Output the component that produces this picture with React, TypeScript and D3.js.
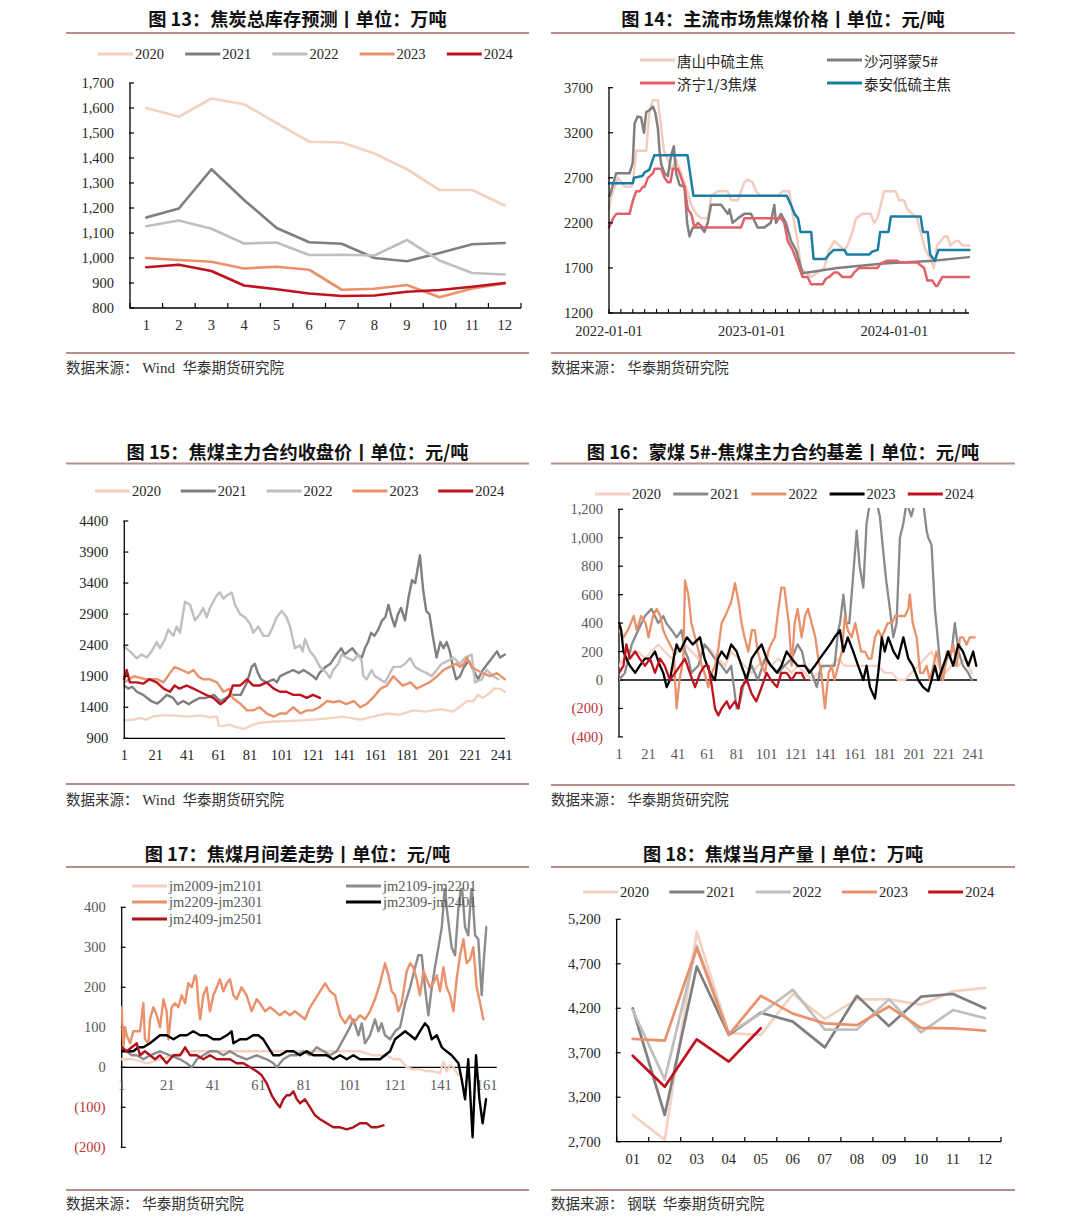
import React from 'react';
import * as d3 from 'd3';

type P = [number, number];

const SERIF = "'Liberation Serif','Times New Roman',serif";
const CJK = "'Noto Sans CJK SC','Noto Sans',sans-serif";
const RULE = '#b48e8c';
const TXT = '#262626';
const NEG = '#b8333a';

const C20 = '#f3d2c1';
const C21 = '#7f7f7f';
const C22 = '#bfbfbf';
const C23 = '#e9916b';
const C24 = '#c0111f';
const BLACK = '#000000';

// ---------------- 图13 焦炭总库存预测 ----------------
const months13 = [1, 2, 3, 4, 5, 6, 7, 8, 9, 10, 11, 12];
const inv2020 = [1600, 1565, 1638, 1615, 1540, 1465, 1462, 1418, 1355, 1272, 1272, 1210];
const inv2021 = [1162, 1198, 1355, 1232, 1120, 1063, 1057, 1000, 987, 1020, 1055, 1060];
const inv2022 = [1127, 1150, 1117, 1058, 1062, 1012, 1013, 1010, 1072, 990, 940, 934];
const inv2023 = [1000, 992, 985, 958, 965, 953, 873, 877, 892, 843, 878, 898];
const inv2024 = [963, 973, 948, 890, 875, 858, 848, 850, 865, 872, 885, 900];
const ticks13 = [800, 900, 1000, 1100, 1200, 1300, 1400, 1500, 1600, 1700];

// ---------------- 图14 主流市场焦煤价格 (x = months since 2022-01-01) ----------------
const tangshan: P[] = [[0,2350],[0.2,2500],[0.62,2650],[0.76,2700],[1.31,2600],[1.87,2600],[2.01,2650],[2.29,3000],[3.13,3000],[3.41,3450],[3.69,3560],[4.11,3560],[4.25,3400],[4.62,3000],[4.95,2900],[5.23,2800],[5.65,2900],[6.07,2750],[6.35,2650],[6.91,2400],[7.33,2300],[7.75,2250],[8.31,2250],[8.59,2500],[9.15,2550],[9.99,2550],[10.27,2450],[10.83,2450],[11.1,2550],[11.38,2650],[11.66,2680],[12.08,2650],[12.36,2550],[12.78,2500],[14.18,2500],[14.6,2550],[15.16,2550],[15.44,2300],[15.86,2000],[16.14,1700],[16.98,1600],[17.54,1650],[18.1,1700],[18.52,1900],[18.94,2000],[19.36,1950],[19.78,1900],[20.06,1950],[20.48,2100],[20.76,2250],[21.3,2300],[22.0,2300],[22.3,2200],[22.57,2250],[22.85,2400],[23.13,2550],[24.1,2550],[24.4,2450],[24.8,2450],[25.1,2350],[25.5,2300],[25.9,2250],[26.2,2100],[26.6,1900],[27.05,1800],[27.3,1700],[27.6,1950],[27.9,2000],[28.2,2050],[28.45,2050],[28.7,1950],[29.15,2000],[29.4,2000],[29.7,1950],[30.27,1950]];
const shahe: P[] = [[0.06,2500],[0.6,2750],[1.73,2750],[2.0,2870],[2.15,3300],[2.4,3380],[2.7,3370],[2.94,3200],[3.13,3430],[3.4,3450],[3.7,3490],[3.9,3420],[4.11,3250],[4.25,3000],[4.39,2850],[4.67,2750],[4.95,2720],[5.23,2950],[5.45,3050],[5.65,2750],[5.93,2620],[6.35,2600],[6.57,2200],[6.77,2050],[7.05,2150],[7.33,2150],[7.75,2150],[8.03,2100],[8.3,2200],[8.59,2400],[9.43,2400],[9.99,2300],[10.13,2350],[10.4,2200],[10.83,2250],[11.38,2300],[11.94,2300],[12.5,2150],[13.06,2150],[13.6,2200],[13.9,2400],[14.04,2200],[14.46,2300],[14.88,2200],[15.3,2000],[15.72,1900],[16.28,1640],[19.2,1700],[23.1,1750],[27.3,1780],[30.27,1820]];
const jining: P[] = [[0,2150],[0.34,2250],[0.62,2300],[1.73,2300],[2.01,2450],[2.29,2550],[2.57,2550],[2.85,2600],[2.99,2600],[3.27,2700],[3.69,2750],[3.83,2800],[4.39,2800],[4.67,2700],[4.95,2650],[5.17,2650],[5.37,2800],[5.79,2800],[6.07,2700],[6.35,2600],[6.63,2350],[6.91,2300],[7.19,2150],[7.47,2200],[7.89,2150],[11.1,2150],[11.38,2250],[14.46,2250],[14.74,2200],[15.02,2000],[15.44,1900],[15.72,1800],[16.0,1700],[16.28,1600],[16.7,1600],[16.98,1520],[17.96,1520],[18.24,1580],[18.52,1600],[18.94,1650],[19.22,1650],[19.64,1600],[20.34,1600],[20.62,1650],[21.03,1700],[22.57,1700],[22.85,1750],[23.41,1780],[24.25,1780],[24.53,1760],[25.93,1760],[26.2,1730],[26.49,1700],[26.77,1560],[27.19,1560],[27.47,1500],[27.61,1500],[28.03,1600],[30.27,1600]];
const taian: P[] = [[0,2640],[2.0,2640],[2.1,2700],[2.8,2720],[3.0,2760],[3.4,2790],[3.8,2950],[6.6,2950],[7.1,2500],[14.95,2500],[15.3,2400],[15.6,2300],[15.9,2250],[16.1,2100],[17.0,2100],[17.2,1800],[18.2,1800],[18.5,1850],[18.9,1900],[19.8,1900],[20.0,1850],[21.9,1850],[22.1,1880],[22.6,1900],[22.8,2100],[23.5,2100],[23.7,2270],[26.2,2270],[26.4,2100],[26.8,2100],[27.0,1850],[27.4,1780],[27.7,1900],[30.3,1900]];
const ticks14 = [1200, 1700, 2200, 2700, 3200, 3700];
const dateLabels14: [number, string][] = [[0, '2022-01-01'], [12, '2023-01-01'], [24, '2024-01-01']];

// ---------------- 图15 焦煤主力合约收盘价 (x = trading day) ----------------
const close2020: P[] = [[1,1190],[7,1200],[11,1230],[15,1200],[19,1250],[24,1270],[32,1270],[41,1250],[49,1270],[55,1240],[60,1250],[61,1100],[64,1100],[68,1120],[72,1080],[77,1050],[81,1100],[87,1150],[96,1170],[108,1180],[121,1200],[130,1220],[140,1250],[151,1200],[159,1250],[168,1300],[176,1280],[185,1350],[193,1330],[202,1370],[210,1330],[214,1400],[219,1500],[223,1500],[226,1600],[229,1550],[233,1620],[236,1700],[240,1700],[243,1650]];
const close2021: P[] = [[1,1750],[3.5,1700],[6,1730],[9,1650],[13,1600],[18,1500],[22,1460],[24,1500],[28,1600],[32,1550],[35,1450],[38.5,1500],[42,1450],[45,1500],[49,1550],[53,1550],[58,1600],[62,1500],[66,1550],[70,1600],[75,1600],[79,1800],[82,2050],[84,2100],[86,1950],[88,1850],[91.5,1800],[96,1850],[98,1800],[100,1900],[104,1950],[108.5,2000],[112,1950],[115,2000],[118,1950],[121,1900],[123,1850],[125,1950],[129,2050],[132,2100],[136,2250],[139,2350],[141,2250],[143.5,2300],[146,2350],[149,2250],[152,2200],[154,2350],[156,2450],[158,2600],[160,2550],[162.5,2650],[165,2800],[167,2850],[169,3050],[171,2850],[173,2700],[175,2900],[177,3000],[179.5,2800],[182,3200],[184,3450],[186,3400],[189,3850],[191,3300],[193,2950],[195,2900],[197.5,2500],[199.6,2200],[202,2450],[204,2350],[206,2450],[208,2300],[210,2050],[212,1850],[214.5,1900],[217,2050],[220,2150],[223,2000],[226,1850],[229,2000],[233.5,2150],[238,2300],[240,2200],[243,2250]];
const close2022: P[] = [[1,2376],[4.6,2300],[8.8,2190],[12,2250],[15.2,2200],[18.4,2300],[21.6,2450],[23.7,2350],[26.9,2500],[29,2650],[32.2,2550],[34.3,2700],[36.4,2600],[39.6,3100],[42.8,3050],[46,2800],[49.1,2900],[51.2,3000],[53.4,2850],[55.5,3000],[57.6,3100],[59.7,3200],[61.8,3250],[64,3150],[66.1,3200],[69.3,3250],[71.4,3050],[74.6,2900],[77.7,2850],[80.9,2750],[83,2600],[86.2,2700],[89.4,2550],[92.6,2550],[94.7,2650],[97.9,2850],[101.1,2950],[104.2,2850],[106.4,2700],[109.5,2350],[112.7,2400],[114.4,2300],[115.9,2500],[119.1,2300],[122.3,2200],[125.4,2050],[129.7,1950],[131.8,1870],[133.9,2000],[137.1,2100],[139.2,2250],[142.4,2200],[146.6,2150],[149.8,2250],[151.9,2150],[153,1900],[155.1,1850],[157.2,1950],[158.3,2000],[160.4,1900],[163.6,1850],[166.8,1800],[168.9,1900],[172.1,2050],[176.3,2050],[179.5,2100],[182.7,2190],[185.9,2050],[189,2000],[193.3,1950],[196.5,1900],[199.6,2000],[202.8,2100],[207,2150],[210.2,2200],[214.5,2100],[217.7,2200],[221.9,2250],[224,1800],[228.3,1850],[231.4,2000],[235.7,1900],[238.9,1850]];
const close2023: P[] = [[1,1800],[7,1900],[15,1850],[22,1850],[26,1800],[30,1950],[33,2050],[37.5,2000],[42,1950],[45,2000],[48,1900],[51,1850],[55.5,1850],[60,1800],[64,1650],[68,1700],[70,1550],[75,1450],[79,1350],[83,1350],[87,1400],[91.5,1300],[96,1250],[100,1300],[104,1300],[108.5,1400],[113,1300],[117,1350],[121,1350],[125,1400],[130,1500],[134,1480],[138,1500],[142,1450],[147,1500],[151,1400],[155,1450],[159,1550],[164,1700],[168,1750],[172,1900],[174,1850],[178,1750],[183,1800],[187,1700],[191,1750],[195,1800],[200,1900],[204,2000],[208,2050],[212,2100],[214.5,2050],[217,2100],[219,2200],[222,2050],[225,2000],[229,1950],[233.5,1900],[238,1950],[243,1850]];
const close2024: P[] = [[1,1850],[2.5,2000],[4.6,1800],[8.8,1800],[13,1780],[17,1850],[21.6,1800],[26,1700],[30,1650],[33,1750],[36,1700],[40.6,1750],[45,1700],[49,1650],[53,1600],[57.6,1550],[62,1450],[65,1500],[68,1600],[70,1750],[74.6,1750],[79,1850],[81,1800],[83,1750],[87,1750],[91.5,1800],[96,1700],[100,1650],[104,1650],[108.5,1600],[113,1600],[117,1550],[121,1600],[125.4,1550]];
const ticks15 = [900, 1400, 1900, 2400, 2900, 3400, 3900, 4400];
const dayTicks = [1, 21, 41, 61, 81, 101, 121, 141, 161, 181, 201, 221, 241];

// ---------------- 图16 蒙煤5#-焦煤主力合约基差 ----------------
const basis2020: P[] = [[1,100],[7,200],[14,200],[18.6,150],[23,200],[27.6,250],[32,200],[36.7,150],[41,200],[45.7,250],[50,200],[54.7,150],[59,250],[64,200],[68,150],[73,100],[77,200],[82,150],[86,100],[91,50],[95,100],[100,150],[104,100],[109,150],[113,100],[118,50],[122,100],[127,50],[131.5,0],[136,50],[140.5,100],[145,100],[149.5,150],[154,100],[158.6,100],[163,100],[167.6,100],[172,100],[176.6,100],[181,50],[186,50],[190,0],[194.7,0],[199,50],[203.7,100],[208,150],[212.7,200],[217.3,100],[222,50],[226.3,100],[231,100],[235,150],[240,50]];
const basis2021: P[] = [[1,0],[5,50],[9.6,250],[14,350],[18.6,450],[23,500],[27.6,400],[31,450],[33,400],[36.7,350],[40,300],[43.4,350],[45.7,200],[48,150],[50,50],[54.7,100],[59,250],[62.6,200],[66,150],[70.5,100],[73.9,50],[77,100],[80.7,-200],[83,-150],[86,0],[91,100],[95,0],[100,150],[104,100],[109,50],[113,100],[118,150],[122,250],[125,200],[127,100],[131.5,50],[135,-50],[138,100],[143,100],[147,100],[149.5,350],[150.7,400],[153,600],[155,400],[157,400],[158.6,600],[162,1050],[164,800],[166.5,650],[168.7,1100],[171,1250],[173,1250],[175.5,1250],[177.7,1150],[180,900],[182,700],[184.5,500],[186.8,300],[189,400],[191.3,1000],[193.6,1100],[195.8,1250],[199,1150],[201.5,1250],[203.7,1250],[207,1250],[209.4,1050],[210.5,1000],[212.7,950],[215,500],[217.3,250],[219.5,0],[222,100],[224,200],[226.3,200],[228.5,400],[231,200],[234,100],[237.6,50],[240,0]];
const basis2022: P[] = [[1,350],[4,300],[7,350],[11,450],[13,350],[16,450],[19,400],[21,300],[24,450],[26.5,500],[29,450],[31,350],[33,300],[35.5,250],[38,200],[40,-200],[42,0],[44.6,150],[45.7,700],[48,600],[50,400],[52.5,300],[55,200],[57,100],[59,50],[61.5,-50],[64,50],[66,100],[68,200],[70.5,400],[73,450],[75,500],[77,550],[79.6,680],[82,550],[84,400],[86,300],[88.6,200],[91,350],[93,350],[95,200],[97.6,100],[100,50],[102,200],[104,250],[106.6,300],[109,500],[111,650],[113,650],[116,400],[118,100],[120,400],[122,500],[124.7,300],[127,450],[129,500],[131.5,400],[134,300],[136,150],[138,50],[140.5,-200],[143,50],[145,100],[147,0],[149.5,100],[152,200],[154,450],[156,350],[158.6,300],[161,400],[163,300],[165,200],[167.6,200],[170,150],[172,150],[174.4,300],[176.6,350],[179,300],[181,350],[183,400],[186,400],[188,450],[190,450],[194.7,450],[197,500],[198,600],[200,400],[202.6,300],[205,50],[207,50],[209.4,100],[211.6,0],[214,100],[216,200],[218.4,100],[220.6,0],[223,200],[225,150],[227.4,250],[229.7,100],[232,300],[234,300],[236.4,250],[238.7,300],[242,300]];
const basis2023: P[] = [[1,400],[2.5,350],[4,200],[6,150],[8.4,100],[12,50],[15,100],[18.6,150],[22,150],[25.4,200],[28.8,100],[31,50],[33.3,-50],[35.5,0],[38,150],[40,250],[42.3,200],[44.6,250],[47,300],[51,250],[55.9,300],[59,150],[62.6,50],[66,0],[68,150],[70.5,200],[74,150],[77,250],[80.7,200],[84,100],[87.5,0],[90.8,150],[94,200],[97.6,250],[101,150],[104,100],[108,50],[111,100],[114.5,200],[118,150],[122,100],[127,100],[130,50],[133.7,100],[137,150],[140.5,200],[144,250],[147,300],[150.7,350],[153,200],[156,300],[159.7,200],[163,100],[166.5,0],[168.7,100],[171,-50],[174.4,-130],[176.6,50],[179,300],[181,200],[183.4,300],[187,200],[190,150],[193.6,300],[197,150],[200,100],[203.7,0],[207,-50],[210.5,-80],[212.7,0],[215,100],[217.3,0],[220.6,100],[224,200],[227.4,100],[230.8,250],[234,200],[237.6,100],[240.9,200],[243,100]];
const basis2024: P[] = [[1,50],[4,100],[6,250],[8.4,150],[12,200],[15,150],[18.6,100],[22,150],[25.4,50],[28.8,150],[32,100],[35.5,0],[39,50],[42.3,100],[45.7,150],[49,50],[52.5,-50],[56,50],[59,100],[61.5,100],[64,-50],[66,-200],[68.3,-250],[70.5,-200],[74,-150],[76,-200],[79.6,-150],[82,-200],[84,-50],[87.5,0],[91,-100],[94,-150],[97.6,-50],[101,50],[104,0],[108,-50],[111,50],[114.5,50],[118,0],[121,50],[124.7,50],[127,0]];
const ticks16 = [-400, -200, 0, 200, 400, 600, 800, 1000, 1200];

// ---------------- 图17 焦煤月间差走势 ----------------
const jm2009: P[] = [[1,20],[6.1,20],[12,10],[17.8,20],[23.7,30],[29.5,40],[35.4,40],[41.2,40],[47.1,40],[52.9,40],[58.7,40],[64.6,40],[70.4,40],[76.3,40],[82.1,40],[88,40],[93.8,40],[99.7,40],[105.5,40],[111.4,30],[117.2,30],[120.2,20],[123.1,20],[126,0],[128.9,-5],[131.8,-5],[134.8,-10],[137.7,-10],[140.6,-15],[142.1,15],[143.5,-10],[145,5],[146.5,0],[148.7,-20]];
const jm2109: P[] = [[1,50],[3.2,40],[5.4,30],[7.6,30],[10.5,20],[13.4,30],[17.8,40],[22.2,30],[26.6,20],[29.5,10],[31.7,0],[33.9,20],[36.8,30],[39.7,40],[42.7,40],[45.6,30],[48.5,40],[51.4,30],[55.8,20],[60.2,30],[64.6,20],[67.5,10],[69,0],[71.9,20],[74.8,30],[77.8,30],[80.7,40],[83.6,30],[86.5,50],[89.5,40],[92.4,30],[95.3,40],[98.2,70],[101.1,100],[102.6,120],[104.8,80],[106.3,110],[107.7,60],[109.9,80],[112.1,120],[113.6,90],[115,110],[116.5,80],[118.7,70],[120.9,90],[123.1,100],[125.3,160],[127.5,200],[129.7,250],[131.1,280],[132.6,280],[134,200],[135.5,130],[137,200],[138.4,250],[139.9,300],[141.4,350],[142.8,460],[143.5,400],[145.7,300],[147.2,280],[148.7,400],[150.1,460],[151.6,350],[153,330],[154.5,460],[156,330],[157.4,320],[158.9,180],[159.6,250],[160.9,350]];
const jm2209: P[] = [[1,150],[1.7,50],[2.5,100],[3.2,80],[4.7,60],[6.1,90],[9,90],[10.5,160],[11.2,70],[12.7,60],[13.4,120],[14.9,150],[16.4,130],[17.8,100],[19.3,170],[20.7,140],[21.5,70],[22.9,150],[24.4,160],[25.9,150],[27.3,180],[28.8,160],[30.2,210],[31.7,200],[33.2,230],[33.9,220],[34.6,160],[35.4,120],[36.8,180],[38.3,200],[39.7,140],[41.2,180],[42.7,200],[44.1,220],[45.6,190],[47.1,210],[48.5,220],[50,180],[51.4,170],[53.6,200],[55.8,180],[58,140],[60.2,170],[61.7,160],[63.9,140],[66.1,150],[68.3,140],[70.4,130],[72.6,140],[74.8,130],[77,140],[79.2,130],[81.4,120],[83.6,150],[85.8,170],[88,190],[90.2,210],[92.4,190],[94.6,180],[96.8,130],[99,110],[101.1,130],[102.6,110],[104.1,120],[105.5,130],[107.7,120],[109.9,140],[112.1,170],[114.3,210],[116.5,260],[118,230],[119.4,190],[120.9,180],[122.3,140],[123.8,160],[126,240],[127.5,260],[128.9,250],[130.4,220],[131.8,180],[133.3,240],[134.8,220],[136.2,200],[137.7,210],[139.2,230],[140.6,190],[142.1,250],[143.5,200],[145,180],[146.5,140],[147.9,220],[149.4,280],[150.9,320],[152.3,260],[153.8,270],[155.2,300],[156.7,200],[158.2,160],[159.6,120]];
const jm2309: P[] = [[1,40],[3.2,40],[6.1,40],[8.3,50],[10.5,50],[13.4,60],[15.6,70],[17.8,80],[20.7,80],[23.7,70],[26.6,80],[29.5,80],[32.4,90],[35.4,80],[38.3,80],[41.2,70],[44.1,70],[47.1,80],[49.2,90],[50,60],[52.9,70],[55.8,70],[58.7,80],[60.9,80],[63.1,70],[65.3,50],[67.5,30],[70.4,30],[73.4,40],[76.3,40],[79.2,30],[82.1,40],[85.1,30],[88,30],[90.9,30],[93.8,20],[96.8,30],[99.7,20],[102.6,30],[105.5,20],[108.5,20],[111.4,20],[114.3,20],[116.5,30],[118.7,40],[120.9,70],[123.1,80],[125.3,90],[127.5,80],[129.7,70],[131.8,90],[134,110],[135.5,100],[137,70],[139.2,80],[141.4,50],[143.5,40],[145.7,30],[148.7,10],[150.1,-30],[151.6,-80],[153,20],[153.8,-60],[154.9,-175],[156.4,30],[157.9,-80],[159.3,-140],[160.8,-80]];
const jm2409: P[] = [[1,50],[3.2,40],[5.4,50],[7.6,60],[9,30],[11.2,40],[13.4,30],[15.6,20],[17.8,30],[20.7,10],[23.7,30],[26.6,30],[28.8,50],[31,30],[33.9,30],[36.8,20],[39.7,30],[42.7,20],[45.6,20],[48.5,20],[51.4,10],[54.4,10],[57.3,0],[60.2,-10],[62.4,-20],[64.6,-40],[66.8,-70],[69,-90],[70.4,-100],[71.9,-80],[73.4,-70],[74.8,-70],[76.3,-60],[77.8,-80],[79.2,-90],[81.4,-80],[83.6,-100],[85.8,-120],[88,-130],[90.9,-140],[93.8,-150],[96.8,-150],[99.7,-155],[102.6,-150],[105.5,-140],[108.5,-140],[110.6,-150],[112.8,-150],[115.8,-145]];
const ticks17 = [-200, -100, 0, 100, 200, 300, 400];
const dayTicks17 = [1, 21, 41, 61, 81, 101, 121, 141, 161];

// ---------------- 图18 焦煤当月产量 ----------------
const months18 = ['01', '02', '03', '04', '05', '06', '07', '08', '09', '10', '11', '12'];
const out2020 = [3000, 2720, 5060, 3920, 3900, 4360, 4080, 4300, 4300, 4240, 4390, 4430];
const out2021 = [4200, 3000, 4670, 3900, 4150, 4050, 3760, 4340, 4000, 4330, 4360, 4200];
const out2022 = [4180, 3400, 4900, 3920, 4140, 4410, 3960, 3960, 4300, 3930, 4180, 4090];
const out2023 = [3855, 3836, 4880, 3900, 4340, 4140, 4030, 4010, 4220, 3980, 3975, 3948];
const out2024 = [3667, 3318, 3851, 3600, 3975];
const ticks18 = [2700, 3200, 3700, 4200, 4700, 5200];

// ---------------- shared pieces ----------------
const fmtComma = d3.format(',');
const fmtParen = (v: number) => (v < 0 ? `(${fmtComma(-v)})` : fmtComma(v));

function Frame({ x1, x2, titleY, ruleY, botY, srcY, title, source }: any) {
  return (
    <g>
      <text x={(x1 + x2) / 2} y={titleY} textAnchor="middle" fontFamily={CJK} fontWeight={700} fontSize={18.2} fill="#111">{title}</text>
      <line x1={x1} x2={x2} y1={ruleY} y2={ruleY} stroke={RULE} strokeWidth={2} />
      <line x1={x1} x2={x2} y1={botY} y2={botY} stroke={RULE} strokeWidth={2} />
      <text x={x1} y={srcY} fontFamily={CJK} fontSize={14.5} fill="#333" style={{ whiteSpace: 'pre' }}>
        {source.map((s: [string, boolean], i: number) => (
          <tspan key={i} fontFamily={s[1] ? SERIF : CJK} fontSize={s[1] ? 15 : 14.5}>{s[0]}</tspan>
        ))}
      </text>
    </g>
  );
}

function Legend({ items, x0, dx, y, len = 35 }: any) {
  return (
    <g>
      {items.map((it: any, i: number) => {
        const x = x0 + i * dx;
        return (
          <g key={i}>
            <line x1={x} x2={x + len} y1={y} y2={y} stroke={it.color} strokeWidth={3} />
            <text x={x + len + 2} y={y} dominantBaseline="central" fontFamily={it.cjk ? CJK : SERIF} fontSize={it.cjk ? 14 : 14.5} fill={TXT}>{it.label}</text>
          </g>
        );
      })}
    </g>
  );
}

function YAxis({ x0, y, ticks, fmt, top, bottom, gap = 16, colorFn }: any) {
  return (
    <g>
      <line x1={x0} x2={x0} y1={top} y2={bottom} stroke="#000" strokeWidth={1.3} />
      {ticks.map((t: number) => (
        <g key={t}>
          <line x1={x0 - 1} x2={x0 + 4} y1={y(t)} y2={y(t)} stroke="#000" strokeWidth={1.2} />
          <text x={x0 - gap} y={y(t)} textAnchor="end" dominantBaseline="central" fontFamily={SERIF} fontSize={14.5} fill={colorFn ? colorFn(t) : TXT}>{fmt(t)}</text>
        </g>
      ))}
    </g>
  );
}

function Path({ data, x, y, color, w = 2.2, clip }: any) {
  const gen = d3.line<P>().x((d) => x(d[0])).y((d) => y(d[1]));
  return <path d={gen(data) || ''} fill="none" stroke={color} strokeWidth={w} strokeLinejoin="round" strokeLinecap="round" clipPath={clip} />;
}

const years = ['2020', '2021', '2022', '2023', '2024'];
const SRC_WIND: [string, boolean][] = [['数据来源：', false], [' Wind  ', true], ['华泰期货研究院', false]];
const SRC_HT: [string, boolean][] = [['数据来源：', false], [' ', true], ['华泰期货研究院', false]];

// ---------------- Fig 13 ----------------
function Fig13() {
  const x = d3.scaleBand<number>().domain(months13).range([130, 521]);
  const cx = (m: number) => (x(m) as number) + x.bandwidth() / 2;
  const y = d3.scaleLinear().domain([800, 1700]).range([308, 83]);
  const series = [inv2020, inv2021, inv2022, inv2023, inv2024];
  const colors = [C20, C21, C22, C23, C24];
  const bounds = months13.map((m) => x(m) as number).concat([521]);
  return (
    <g>
      <Frame x1={66} x2={529} titleY={26} ruleY={33} botY={353} srcY={373} title="图 13：焦炭总库存预测丨单位：万吨" source={SRC_WIND} />
      <Legend items={years.map((l, i) => ({ label: l, color: colors[i] }))} x0={98} dx={87.2} y={54} />
      {series.map((s, i) => (
        <Path key={i} data={s.map((v, j) => [months13[j], v])} x={cx} y={y} color={colors[i]} w={2.7} />
      ))}
      <YAxis x0={130} y={y} ticks={ticks13} fmt={fmtComma} top={83} bottom={308} />
      <line x1={130} x2={521} y1={308} y2={308} stroke="#000" strokeWidth={1.3} />
      {bounds.map((b, i) => <line key={i} x1={b} x2={b} y1={308} y2={303} stroke="#000" strokeWidth={1.2} />)}
      {months13.map((m) => (
        <text key={m} x={cx(m)} y={325} textAnchor="middle" dominantBaseline="central" fontFamily={SERIF} fontSize={14.5} fill={TXT}>{m}</text>
      ))}
    </g>
  );
}

// ---------------- Fig 14 ----------------
function Fig14() {
  const x = d3.scaleLinear().domain([0, 30.27]).range([609, 969]);
  const y = d3.scaleLinear().domain([1200, 3700]).range([313, 87.7]);
  const monthTicks = d3.range(0, 31);
  const series = [
    { label: '唐山中硫主焦', color: '#f2cdbd', data: tangshan },
    { label: '沙河驿蒙5#', color: '#808080', data: shahe },
    { label: '济宁1/3焦煤', color: '#e0616a', data: jining },
    { label: '泰安低硫主焦', color: '#1a7ea4', data: taian },
  ];
  return (
    <g>
      <Frame x1={551} x2={1015} titleY={26} ruleY={33} botY={353} srcY={373} title="图 14：主流市场焦煤价格丨单位：元/吨" source={SRC_HT} />
      {series.map((s, i) => {
        const lx = i % 2 === 0 ? 640 : 827;
        const ly = i < 2 ? 60 : 83;
        return (
          <g key={i}>
            <line x1={lx} x2={lx + 35} y1={ly} y2={ly} stroke={s.color} strokeWidth={3} />
            <text x={lx + 37} y={ly} dominantBaseline="central" fontFamily={CJK} fontSize={14.5} fill={TXT}>{s.label}</text>
          </g>
        );
      })}
      {series.map((s, i) => <Path key={i} data={s.data} x={x} y={y} color={s.color} w={2.5} />)}
      <YAxis x0={609} y={y} ticks={ticks14} fmt={(v: number) => String(v)} top={87.7} bottom={313} />
      <line x1={609} x2={969} y1={313} y2={313} stroke="#000" strokeWidth={1.3} />
      {monthTicks.map((m) => <line key={m} x1={x(m)} x2={x(m)} y1={313} y2={309} stroke="#000" strokeWidth={1.1} />)}
      {dateLabels14.map(([m, l]) => (
        <text key={l} x={x(m)} y={331} textAnchor="middle" dominantBaseline="central" fontFamily={SERIF} fontSize={14.5} fill={TXT}>{l}</text>
      ))}
    </g>
  );
}

// ---------------- Fig 15 ----------------
function Fig15() {
  const x = d3.scaleLinear().domain([1, 241]).range([124.3, 501.7]);
  const y = d3.scaleLinear().domain([900, 4400]).range([738.3, 521]);
  const series = [close2020, close2021, close2022, close2023, close2024];
  const colors = [C20, C21, C22, C23, C24];
  return (
    <g>
      <Frame x1={66} x2={529} titleY={459} ruleY={463.5} botY={784} srcY={805} title="图 15：焦煤主力合约收盘价丨单位：元/吨" source={SRC_WIND} />
      <Legend items={years.map((l, i) => ({ label: l, color: colors[i] }))} x0={95} dx={85.8} y={491} />
      {series.map((s, i) => <Path key={i} data={s} x={x} y={y} color={colors[i]} w={2.4} />)}
      <YAxis x0={124.3} y={y} ticks={ticks15} fmt={(v: number) => String(v)} top={521} bottom={738.3} />
      <line x1={124.3} x2={505} y1={738.3} y2={738.3} stroke="#000" strokeWidth={1.3} />
      {dayTicks.map((d) => (
        <text key={d} x={x(d)} y={755} textAnchor="middle" dominantBaseline="central" fontFamily={SERIF} fontSize={14.5} fill={TXT}>{d}</text>
      ))}
    </g>
  );
}

// ---------------- Fig 16 ----------------
function Fig16() {
  const x = d3.scaleLinear().domain([1, 241]).range([619, 973.3]);
  const y = d3.scaleLinear().domain([-400, 1200]).range([736.9, 509.3]);
  const series = [basis2020, basis2021, basis2022, basis2023, basis2024];
  const colors = [C20, '#8a8a8a', C23, BLACK, C24];
  return (
    <g>
      <defs>
        <clipPath id="clip16"><rect x={619} y={508} width={360} height={240} /></clipPath>
      </defs>
      <Frame x1={551} x2={1015} titleY={459} ruleY={463.5} botY={785} srcY={805} title="图 16：蒙煤 5#-焦煤主力合约基差丨单位：元/吨" source={SRC_HT} />
      <Legend items={years.map((l, i) => ({ label: l, color: colors[i] }))} x0={595} dx={78.2} y={494} />
      <YAxis x0={619} y={y} ticks={ticks16} fmt={fmtParen} top={509.3} bottom={736.9} colorFn={(t: number) => (t < 0 ? NEG : '#595959')} />
      <line x1={619} x2={977} y1={y(0)} y2={y(0)} stroke="#000" strokeWidth={1.3} />
      {series.map((s, i) => <Path key={i} data={s} x={x} y={y} color={colors[i]} w={2.3} clip="url(#clip16)" />)}
      {dayTicks.map((d) => (
        <text key={d} x={x(d)} y={754} textAnchor="middle" dominantBaseline="central" fontFamily={SERIF} fontSize={14.5} fill="#595959">{d}</text>
      ))}
    </g>
  );
}

// ---------------- Fig 17 ----------------
function Fig17() {
  const x = d3.scaleLinear().domain([1, 161]).range([121.7, 486.5]);
  const y = d3.scaleLinear().domain([-200, 400]).range([1147.3, 907.3]);
  const series = [
    { label: 'jm2009-jm2101', color: C20, data: jm2009, lx: 132, ly: 886 },
    { label: 'jm2109-jm2201', color: '#8c8c8c', data: jm2109, lx: 346, ly: 886 },
    { label: 'jm2209-jm2301', color: C23, data: jm2209, lx: 132, ly: 902 },
    { label: 'jm2309-jm2401', color: BLACK, data: jm2309, lx: 346, ly: 902 },
    { label: 'jm2409-jm2501', color: '#b0121c', data: jm2409, lx: 132, ly: 919 },
  ];
  return (
    <g>
      <defs>
        <clipPath id="clip17"><rect x={121} y={888} width={380} height={270} /></clipPath>
      </defs>
      <Frame x1={66} x2={529} titleY={861} ruleY={867} botY={1190} srcY={1209} title="图 17：焦煤月间差走势丨单位：元/吨" source={SRC_HT} />
      <YAxis x0={121.7} y={y} ticks={ticks17} fmt={fmtParen} top={907.3} bottom={1147.3} colorFn={(t: number) => (t < 0 ? NEG : '#595959')} />
      <line x1={121.7} x2={496.7} y1={y(0)} y2={y(0)} stroke="#000" strokeWidth={1.3} />
      {dayTicks17.map((d) => (
        <text key={d} x={x(d)} y={1085} textAnchor="middle" dominantBaseline="central" fontFamily={SERIF} fontSize={14.5} fill="#595959">{d}</text>
      ))}
      {series.map((s, i) => <Path key={i} data={s.data} x={x} y={y} color={s.color} w={2.4} clip="url(#clip17)" />)}
      {series.map((s, i) => (
        <g key={i}>
          <line x1={s.lx} x2={s.lx + 35} y1={s.ly} y2={s.ly} stroke={s.color} strokeWidth={3} />
          <text x={s.lx + 37} y={s.ly} dominantBaseline="central" fontFamily={SERIF} fontSize={14.5} fill="#595959">{s.label}</text>
        </g>
      ))}
    </g>
  );
}

// ---------------- Fig 18 ----------------
function Fig18() {
  const x = d3.scaleBand<string>().domain(months18).range([616.7, 1001]);
  const cx = (m: string) => (x(m) as number) + x.bandwidth() / 2;
  const y = d3.scaleLinear().domain([2700, 5200]).range([1141.7, 919.3]);
  const series = [out2020, out2021, out2022, out2023, out2024];
  const colors = [C20, C21, C22, C23, C24];
  const bounds = months18.map((m) => x(m) as number).concat([1001]);
  return (
    <g>
      <Frame x1={551} x2={1015} titleY={861} ruleY={867} botY={1190} srcY={1209} title="图 18：焦煤当月产量丨单位：万吨" source={[['数据来源：', false], [' ', true], ['钢联  华泰期货研究院', false]]} />
      <Legend items={years.map((l, i) => ({ label: l, color: colors[i] }))} x0={583} dx={86.3} y={892} />
      {series.map((s, i) => (
        <Path key={i} data={s.map((v, j) => [months18[j], v])} x={cx} y={y} color={colors[i]} w={2.7} />
      ))}
      <YAxis x0={616.7} y={y} ticks={ticks18} fmt={fmtComma} top={919.3} bottom={1141.7} />
      <line x1={616.7} x2={1001} y1={1141.7} y2={1141.7} stroke="#000" strokeWidth={1.3} />
      {bounds.map((b, i) => <line key={i} x1={b} x2={b} y1={1141.7} y2={1137} stroke="#000" strokeWidth={1.2} />)}
      {months18.map((m) => (
        <text key={m} x={cx(m)} y={1159} textAnchor="middle" dominantBaseline="central" fontFamily={SERIF} fontSize={14.5} fill={TXT}>{m}</text>
      ))}
    </g>
  );
}

export default function App() {
  return (
    <svg width={1078} height={1231} viewBox="0 0 1078 1231" style={{ position: 'absolute', left: 0, top: 0, background: '#fff' }}>
      <rect x={0} y={0} width={1078} height={1231} fill="#fff" />
      <Fig13 />
      <Fig14 />
      <Fig15 />
      <Fig16 />
      <Fig17 />
      <Fig18 />
    </svg>
  );
}
